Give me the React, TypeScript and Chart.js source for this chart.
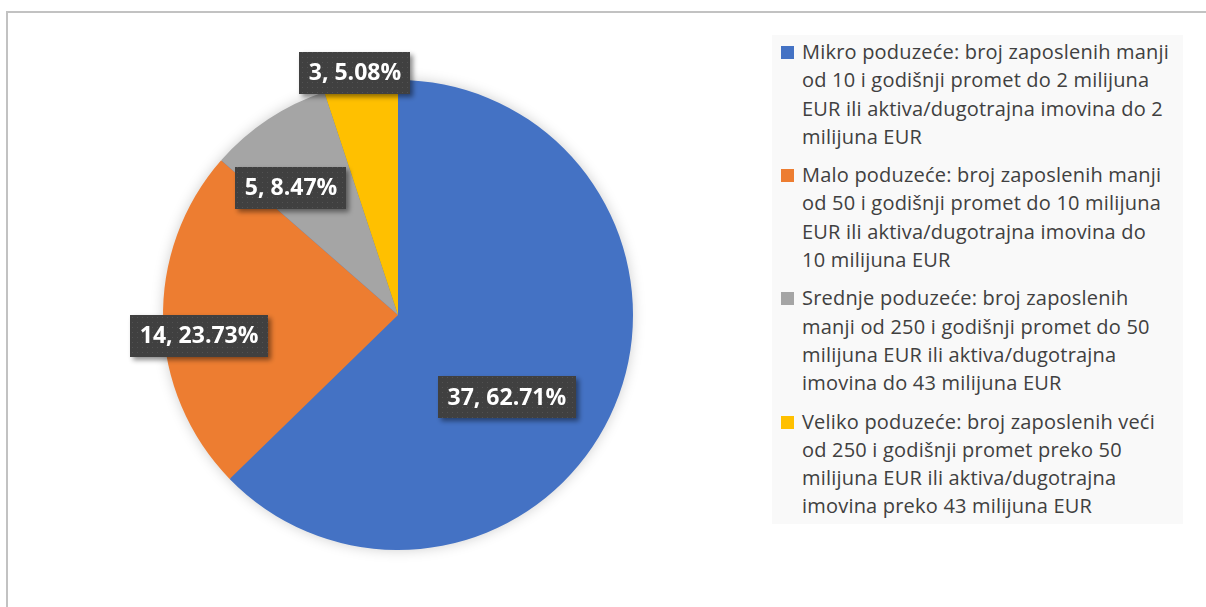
import React, { useEffect, useRef } from "react";
import { Chart, registerables } from "chart.js";

Chart.register(...registerables);

// ---- data ----
const categories = [
  "Mikro poduzeće: broj zaposlenih manji od 10 i godišnji promet do 2 milijuna EUR ili aktiva/dugotrajna imovina do 2 milijuna EUR",
  "Malo poduzeće: broj zaposlenih manji od 50 i godišnji promet do 10 milijuna EUR ili aktiva/dugotrajna imovina do 10 milijuna EUR",
  "Srednje poduzeće: broj zaposlenih manji od 250 i godišnji promet do 50 milijuna EUR ili aktiva/dugotrajna imovina do 43 milijuna EUR",
  "Veliko poduzeće: broj zaposlenih veći od 250 i godišnji promet preko 50 milijuna EUR ili aktiva/dugotrajna imovina preko 43 milijuna EUR",
];
const legendLines = [
  ["Mikro poduzeće: broj zaposlenih manji", "od 10 i godišnji promet do 2 milijuna", "EUR ili aktiva/dugotrajna imovina do 2", "milijuna EUR"],
  ["Malo poduzeće: broj zaposlenih manji", "od 50 i godišnji promet do 10 milijuna", "EUR ili aktiva/dugotrajna imovina do", "10 milijuna EUR"],
  ["Srednje poduzeće: broj zaposlenih", "manji od 250 i godišnji promet do 50", "milijuna EUR ili aktiva/dugotrajna", "imovina do 43 milijuna EUR"],
  ["Veliko poduzeće: broj zaposlenih veći", "od 250 i godišnji promet preko 50", "milijuna EUR ili aktiva/dugotrajna", "imovina preko 43 milijuna EUR"],
];
const values = [37, 14, 5, 3];
const colors = ["#4472C4", "#ED7D31", "#A5A5A5", "#FFC000"];

// label placement within each slice (fraction of slice angle, fraction of radius)
const labelAngleFrac = [0.5625, 0.448, 0.289, 0.45];
const labelRadiusFrac = [0.58, 0.851, 0.708, 1.048];

function makePattern(ctx: CanvasRenderingContext2D) {
  const c = document.createElement("canvas");
  c.width = 5;
  c.height = 5;
  const p = c.getContext("2d")!;
  p.fillStyle = "#404040";
  p.fillRect(0, 0, 5, 5);
  p.fillStyle = "#525252";
  p.fillRect(2, 2, 1, 1);
  return ctx.createPattern(c, "repeat");
}

const pieShadowPlugin = {
  id: "pieShadow",
  beforeDatasetsDraw(chart: any) {
    const meta = chart.getDatasetMeta(0);
    const arc = meta.data[0];
    if (!arc) return;
    const { x, y, outerRadius } = arc.getProps(["x", "y", "outerRadius"], true);
    const ctx = chart.ctx as CanvasRenderingContext2D;
    ctx.save();
    ctx.shadowColor = "rgba(0,0,0,0.22)";
    ctx.shadowBlur = 14;
    ctx.fillStyle = colors[0];
    ctx.beginPath();
    ctx.arc(x, y, outerRadius - 1, 0, Math.PI * 2);
    ctx.fill();
    ctx.restore();
  },
};

const labelPlugin = {
  id: "boxLabels",
  afterDatasetsDraw(chart: any) {
    const meta = chart.getDatasetMeta(0);
    const ctx = chart.ctx as CanvasRenderingContext2D;
    const total = values.reduce((a, b) => a + b, 0);
    const pattern = makePattern(ctx);
    meta.data.forEach((arc: any, i: number) => {
      const { x, y, startAngle, endAngle, outerRadius } = arc.getProps(
        ["x", "y", "startAngle", "endAngle", "outerRadius"],
        true
      );
      const a = startAngle + (endAngle - startAngle) * labelAngleFrac[i];
      const r = outerRadius * labelRadiusFrac[i];
      const cx = x + Math.cos(a) * r;
      const cy = y + Math.sin(a) * r;
      const text = `${values[i]}, ${((values[i] / total) * 100).toFixed(2)}%`;
      ctx.save();
      ctx.font = 'bold 23px "Open Sans"';
      const w = ctx.measureText(text).width + 19;
      const h = 42;
      ctx.shadowColor = "rgba(0,0,0,0.45)";
      ctx.shadowBlur = 5;
      ctx.shadowOffsetX = 3;
      ctx.shadowOffsetY = 3;
      ctx.fillStyle = pattern || "#404040";
      ctx.fillRect(Math.round(cx - w / 2), Math.round(cy - h / 2), Math.round(w), h);
      ctx.shadowColor = "transparent";
      ctx.fillStyle = "#ffffff";
      ctx.textAlign = "center";
      ctx.textBaseline = "middle";
      ctx.fillText(text, cx, cy + 1);
      ctx.restore();
    });
  },
};

function PieChart() {
  const ref = useRef<HTMLCanvasElement>(null);
  useEffect(() => {
    if (!ref.current) return;
    const chart = new Chart(ref.current, {
      type: "pie",
      data: {
        labels: categories,
        datasets: [
          {
            data: values,
            backgroundColor: colors,
            borderWidth: 0,
            hoverOffset: 0,
          },
        ],
      },
      options: {
        responsive: false,
        animation: false,
        events: [],
        radius: 235,
        layout: { padding: { left: 163, right: 573, top: 80, bottom: 57 } },
        plugins: {
          legend: { display: false },
          tooltip: { enabled: false },
        },
      } as any,
      plugins: [pieShadowPlugin, labelPlugin],
    });
    return () => chart.destroy();
  }, []);
  return (
    <canvas
      ref={ref}
      width={1206}
      height={607}
      style={{ position: "absolute", left: 0, top: 0, width: 1206, height: 607 }}
    />
  );
}

function Legend() {
  return (
    <div
      style={{
        position: "absolute",
        left: 772,
        top: 35,
        width: 411,
        height: 489,
        background: "#f9f9f9",
        fontFamily: '"Open Sans", sans-serif',
        fontSize: 20,
        letterSpacing: "0.2px",
        color: "#404040",
        boxSizing: "border-box",
        paddingTop: 3,
      }}
    >
      {legendLines.map((lines, i) => (
        <div key={i} style={{ position: "relative", height: 123.2 }}>
          <div
            style={{
              position: "absolute",
              left: 9,
              top: 8,
              width: 13,
              height: 13,
              background: colors[i],
            }}
          />
          <div style={{ position: "absolute", left: 30, top: 0, lineHeight: "28.3px", whiteSpace: "nowrap" }}>
            {lines.map((l, j) => (
              <div key={j}>{l}</div>
            ))}
          </div>
        </div>
      ))}
    </div>
  );
}

export default function App() {
  return (
    <div
      style={{
        position: "fixed",
        left: 0,
        top: 0,
        width: 1206,
        height: 607,
        background: "#ffffff",
        overflow: "hidden",
      }}
    >
      <div
        style={{
          position: "absolute",
          left: 6,
          top: 11,
          width: 1300,
          height: 700,
          borderTop: "2px solid #c2c2c2",
          borderLeft: "2px solid #c2c2c2",
        }}
      />
      <PieChart />
      <Legend />
    </div>
  );
}
